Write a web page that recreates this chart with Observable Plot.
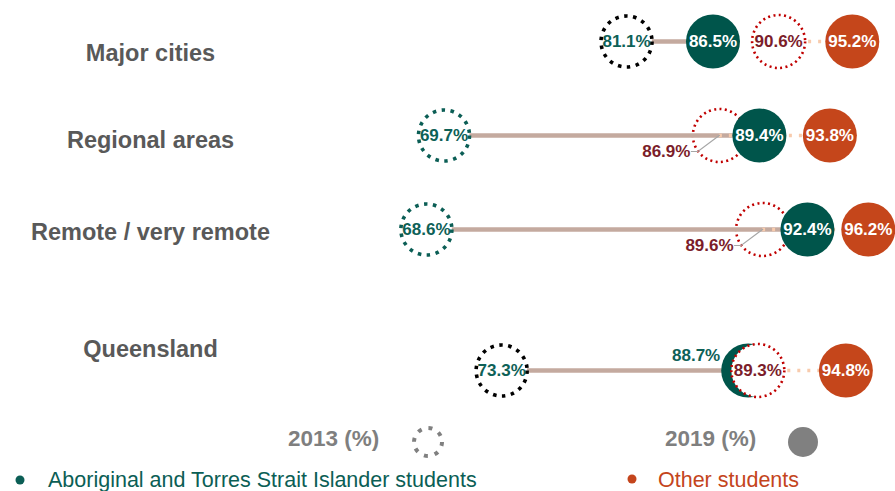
<!DOCTYPE html>
<html>
<head>
<meta charset="utf-8">
<script src="https://cdn.jsdelivr.net/npm/d3@7"></script>
<script src="https://cdn.jsdelivr.net/npm/@observablehq/plot@0.6"></script>
<style>
  html, body { margin: 0; padding: 0; background: #fff; }
  #wrap { position: relative; width: 895px; height: 491px; font-family: "Liberation Sans", Arial, sans-serif; overflow: hidden; }
  #chart { position: absolute; left: 0; top: 0; }
  .lg { position: absolute; white-space: nowrap; line-height: 1; }
  .lg-title { font-weight: bold; color: #7f7f7f; font-size: 22.5px; }
  .lg-key { font-size: 21.5px; }
  .lg svg { display: block; }
</style>
</head>
<body>
<div id="wrap">
  <div id="chart"></div>
  <div class="lg lg-title" style="left:288px; top:428px;">2013 (%)</div>
  <div class="lg" style="left:410px; top:424px;">
    <svg width="36" height="36"><circle cx="18" cy="18" r="14" fill="none" stroke="#808080" stroke-width="4" stroke-dasharray="4,7"></circle></svg>
  </div>
  <div class="lg lg-title" style="left:665px; top:428px;">2019 (%)</div>
  <div class="lg" style="left:786px; top:425px;">
    <svg width="34" height="34"><circle cx="17" cy="17" r="15" fill="#808080"></circle></svg>
  </div>
  <div class="lg" style="left:14px; top:474px;">
    <svg width="12" height="12"><circle cx="6" cy="6" r="4.5" fill="#0b5e55"></circle></svg>
  </div>
  <div class="lg lg-key" style="left:48px; top:470px; color:#0b5e55;">Aboriginal and Torres Strait Islander students</div>
  <div class="lg" style="left:626px; top:473px;">
    <svg width="12" height="12"><circle cx="6" cy="6" r="4.5" fill="#c4451c"></circle></svg>
  </div>
  <div class="lg lg-key" style="left:658px; top:470px; color:#c4451c;">Other students</div>
</div>
<script>
// Attendance rates (%) by remoteness area, 2013 vs 2019
const regions = ["Major cities", "Regional areas", "Remote / very remote", "Queensland"];
const aboriginal2013 = [81.1, 69.7, 68.6, 73.3];
const aboriginal2019 = [86.5, 89.4, 92.4, 88.7];
const other2013 = [90.6, 86.9, 89.6, 89.3];
const other2019 = [95.2, 93.8, 96.2, 94.8];

const rows = regions.map((region, i) => ({
  region,
  a13: aboriginal2013[i],
  a19: aboriginal2019[i],
  o13: other2013[i],
  o19: other2019[i]
}));

const fmt = v => v.toFixed(1) + "%";

// Layout
const W = 895, H = 420;
const xDomain = [42, 97.9];
const R = 27;                       // filled circle radius (px)
const pxPerUnit = W / (xDomain[1] - xDomain[0]);
const overlapGap = (2 * R) / pxPerUnit;  // closer than this, two circles overlap

// Row slots (blank slots give the extra space before the state total)
const yDomain = ["Major cities", "·1", "Regional areas", "·2", "Remote / very remote", "·3", "·4", "Queensland"];

// Category label nudges (px)
const labelNudge = {"Major cities": 11.5, "Regional areas": 5, "Remote / very remote": 2.5, "Queensland": -21};

// 2013 Aboriginal rings: dark for the capital and state totals
const ringStroke = d => (d.region === "Major cities" || d.region === "Queensland") ? "#000000" : "#0b5e55";

const TEAL = "#00554b", ORANGE = "#c5461b", RED_RING = "#c00000", RED_TEXT = "#7b1d2a", TEAL_TEXT = "#0e6157";

const overlaps = d => Math.abs(d.o13 - d.a19) < overlapGap;
const redUnder = rows.filter(d => d.o13 < d.a19);
const redOver = rows.filter(d => d.o13 >= d.a19);
const redOutside = rows.filter(d => overlaps(d) && d.o13 < d.a19);
const tealOutside = rows.filter(d => overlaps(d) && d.o13 >= d.a19);
const redInside = rows.filter(d => !(overlaps(d) && d.o13 < d.a19));
const tealInside = rows.filter(d => !(overlaps(d) && d.o13 >= d.a19));

const valueFont = {fontSize: 17, fontWeight: "bold"};

const redRing = data => Plot.dot(data, {
  x: "o13", y: "region", r: 26.5, fill: "white",
  stroke: RED_RING, strokeWidth: 2.6, strokeDasharray: "2,3.4"
});

// Leader lines for 2013 labels pushed out of a covered ring
const leaders = (index, scales) => {
  const g = d3.create("svg:g").attr("fill", "none").attr("stroke", "#a6a6a6").attr("stroke-width", 1.2);
  for (const d of redOutside) {
    const cx = scales.x(d.o13), cy = scales.y(d.region);
    g.append("path").attr("d", `M${cx - 28},${cy + 16.5}H${cx - 21}L${cx + 1},${cy}`);
  }
  return g.node();
};

const marks = [];

// category labels
for (const region of regions) {
  marks.push(Plot.text([region], {
    y: d => d, text: d => d, frameAnchor: "left", dx: 150, dy: labelNudge[region],
    textAnchor: "middle", fontSize: 23.5, fontWeight: "bold", fill: "#595959"
  }));
}

marks.push(
  redRing(redUnder),
  // Aboriginal change 2013 -> 2019
  Plot.ruleY(rows, {y: "region", x1: "a13", x2: "a19", stroke: "#c4aa9f", strokeWidth: 4.5}),
  // Other students change 2013 -> 2019
  Plot.ruleY(rows, {y: "region", x1: "o13", x2: "o19", stroke: "#f8cbad", strokeWidth: 3.5, strokeDasharray: "3,7"}),
  // 2013 Aboriginal rings
  Plot.dot(rows, {x: "a13", y: "region", r: 25.5, fill: "white", stroke: ringStroke, strokeWidth: 3.6, strokeDasharray: "3.5,5.5"}),
  // 2019 Aboriginal
  Plot.dot(rows, {x: "a19", y: "region", r: R, fill: TEAL}),
  redRing(redOver),
  // 2019 other
  Plot.dot(rows, {x: "o19", y: "region", r: R, fill: ORANGE}),
  leaders,
  // value labels
  Plot.text(rows, {x: "a13", y: "region", text: d => fmt(d.a13), fill: TEAL_TEXT, ...valueFont}),
  Plot.text(tealInside, {x: "a19", y: "region", text: d => fmt(d.a19), fill: "white", ...valueFont}),
  Plot.text(tealOutside, {x: "a19", y: "region", text: d => fmt(d.a19), fill: TEAL_TEXT, textAnchor: "end", dx: -28, dy: -15, ...valueFont}),
  Plot.text(redInside, {x: "o13", y: "region", text: d => fmt(d.o13), fill: RED_TEXT, ...valueFont}),
  Plot.text(redOutside, {x: "o13", y: "region", text: d => fmt(d.o13), fill: RED_TEXT, textAnchor: "end", dx: -29, dy: 16.5, ...valueFont}),
  Plot.text(rows, {x: "o19", y: "region", text: d => fmt(d.o19), fill: "white", ...valueFont})
);

const chart = Plot.plot({
  width: W,
  height: H,
  marginLeft: 0,
  marginRight: 0,
  marginTop: 40,
  marginBottom: 49,
  style: {fontFamily: '"Liberation Sans", Arial, sans-serif', background: "white", overflow: "visible"},
  x: {domain: xDomain, axis: null},
  y: {type: "point", domain: yDomain, padding: 0, axis: null},
  color: {type: "identity"},
  marks
});

document.getElementById("chart").appendChild(chart);
</script>
</body>
</html>
